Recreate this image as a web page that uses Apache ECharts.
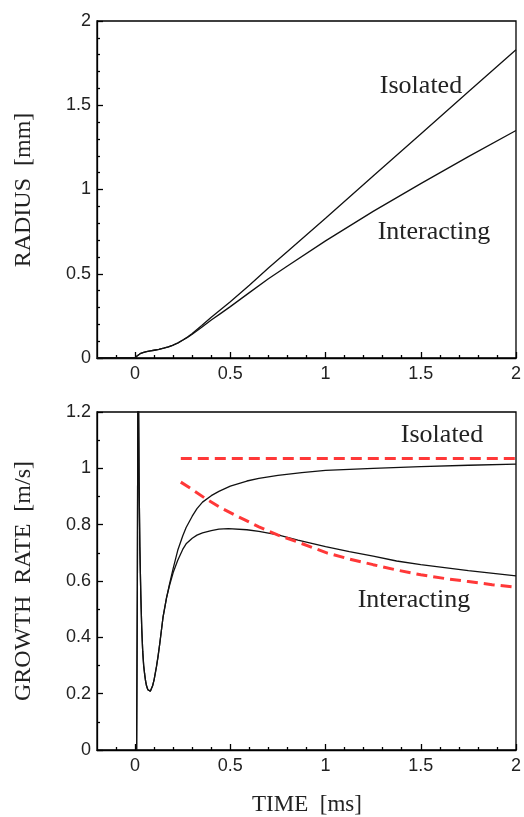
<!DOCTYPE html>
<html>
<head>
<meta charset="utf-8">
<script src="https://cdn.jsdelivr.net/npm/echarts@6/dist/echarts.min.js"></script>
<style>
  html, body { margin: 0; padding: 0; background: #fff; }
  #chart { width: 524px; height: 817px; }
</style>
</head>
<body>
<div id="chart"></div>
<script>
// tick positions on the time axis (ms)
const timeTicks = [0, 0.5, 1, 1.5, 2]
const timeMinorTicks = [-0.1, 0.1, 0.2, 0.3, 0.4, 0.6, 0.7, 0.8, 0.9, 1.1, 1.2, 1.3, 1.4, 1.6, 1.7, 1.8, 1.9]

// top panel: radius [mm] vs time [ms]
const radiusIsolated = [
  [-0.2, 0], [0, 0], [0.01, 0.012], [0.02, 0.022], [0.03, 0.028], [0.045, 0.034],
  [0.06, 0.038], [0.08, 0.042], [0.1, 0.046], [0.125, 0.051], [0.15, 0.058],
  [0.175, 0.066], [0.2, 0.077], [0.225, 0.09], [0.25, 0.107], [0.275, 0.125],
  [0.3, 0.146], [0.35, 0.193], [0.4, 0.242], [0.45, 0.288], [0.5, 0.334],
  [0.6, 0.432], [0.7, 0.534], [0.8, 0.632], [1, 0.83], [1.25, 1.08],
  [1.5, 1.33], [1.75, 1.58], [2, 1.83]
]
const radiusInteracting = [
  [-0.2, 0], [0, 0], [0.01, 0.012], [0.02, 0.022], [0.03, 0.028], [0.045, 0.034],
  [0.06, 0.038], [0.08, 0.042], [0.1, 0.046], [0.125, 0.051], [0.15, 0.058],
  [0.175, 0.066], [0.2, 0.076], [0.225, 0.089], [0.25, 0.105], [0.275, 0.122],
  [0.3, 0.141], [0.35, 0.182], [0.4, 0.225], [0.45, 0.265], [0.5, 0.305],
  [0.6, 0.388], [0.7, 0.47], [0.8, 0.546], [1, 0.695], [1.25, 0.87],
  [1.5, 1.035], [1.75, 1.195], [2, 1.35]
]

// bottom panel: growth rate [m/s] vs time [ms]
const rateIsolated = [
  [0.008, 0], [0.012, 0.6], [0.0145, 1.25], [0.016, 1.5], [0.0185, 1.2], [0.021, 0.95],
  [0.025, 0.72], [0.03, 0.55], [0.035, 0.43], [0.04, 0.35], [0.045, 0.3], [0.05, 0.27],
  [0.055, 0.245], [0.06, 0.228], [0.067, 0.214], [0.074, 0.207], [0.08, 0.209],
  [0.085, 0.215], [0.092, 0.228], [0.1, 0.25], [0.112, 0.295], [0.12, 0.33],
  [0.13, 0.38], [0.147, 0.473], [0.165, 0.54], [0.181, 0.59], [0.2, 0.645],
  [0.224, 0.709], [0.25, 0.76], [0.268, 0.79], [0.3, 0.83], [0.325, 0.857],
  [0.354, 0.88], [0.4, 0.903], [0.44, 0.918], [0.5, 0.937], [0.587, 0.955],
  [0.65, 0.964], [0.75, 0.975], [0.875, 0.985], [1, 0.993], [1.25, 1.0],
  [1.5, 1.006], [1.75, 1.011], [2, 1.015]
]
const rateInteracting = [
  [0.008, 0], [0.012, 0.6], [0.0145, 1.25], [0.016, 1.5], [0.0185, 1.2], [0.021, 0.95],
  [0.025, 0.72], [0.03, 0.55], [0.035, 0.43], [0.04, 0.35], [0.045, 0.3], [0.05, 0.27],
  [0.055, 0.245], [0.06, 0.228], [0.067, 0.214], [0.074, 0.207], [0.08, 0.209],
  [0.085, 0.215], [0.092, 0.228], [0.1, 0.25], [0.112, 0.295], [0.12, 0.33],
  [0.13, 0.38], [0.147, 0.473], [0.165, 0.54], [0.181, 0.585], [0.2, 0.63],
  [0.224, 0.674], [0.25, 0.712], [0.268, 0.732], [0.3, 0.752], [0.325, 0.763],
  [0.354, 0.771], [0.4, 0.779], [0.44, 0.784], [0.49, 0.786], [0.587, 0.782],
  [0.65, 0.776], [0.75, 0.764], [0.855, 0.745], [1, 0.722], [1.125, 0.704],
  [1.25, 0.688], [1.373, 0.671], [1.5, 0.658], [1.75, 0.637], [2, 0.618]
]
// red dashed asymptotes
const rateIsolatedModel = [[0.24, 1.035], [2, 1.035]]
const rateInteractingModel = [
  [0.24, 0.951], [0.3, 0.925], [0.371, 0.892], [0.45, 0.86], [0.527, 0.833],
  [0.579, 0.816], [0.65, 0.792], [0.751, 0.763], [0.855, 0.738], [1.01, 0.699],
  [1.125, 0.678], [1.25, 0.658], [1.373, 0.639], [1.5, 0.622], [1.625, 0.609],
  [1.75, 0.598], [1.875, 0.587], [2, 0.578]
]

const tickFont = { fontFamily: 'Liberation Sans', fontSize: 18, color: '#222' }
const serif = 'Liberation Serif'
const axisLineStyle = { color: '#000', width: 1.3 }

function timeAxes (gridIndex) {
  return [
    {
      gridIndex: gridIndex, type: 'value', position: 'bottom', min: -0.2, max: 2,
      axisLine: { show: true, onZero: false, lineStyle: axisLineStyle },
      axisTick: { show: true, inside: true, length: 6, customValues: timeTicks, lineStyle: axisLineStyle },
      axisLabel: Object.assign({ customValues: timeTicks, margin: 7 }, tickFont),
      splitLine: { show: false }
    },
    {
      gridIndex: gridIndex, type: 'value', position: 'bottom', min: -0.2, max: 2,
      axisLine: { show: false, onZero: false },
      axisTick: { show: true, inside: true, length: 3, customValues: timeMinorTicks, lineStyle: axisLineStyle },
      axisLabel: { show: false },
      splitLine: { show: false }
    }
  ]
}

function valueAxis (gridIndex, max, interval, minorSplit) {
  return {
    gridIndex: gridIndex, type: 'value', min: 0, max: max, interval: interval,
    axisLine: { show: true, onZero: false, lineStyle: axisLineStyle },
    axisTick: { show: true, inside: true, length: 6, lineStyle: axisLineStyle },
    minorTick: { show: true, splitNumber: minorSplit, length: 3, lineStyle: axisLineStyle },
    axisLabel: Object.assign({ margin: 6 }, tickFont),
    splitLine: { show: false },
    minorSplitLine: { show: false }
  }
}

function curve (data, xi, yi, style) {
  return {
    type: 'line', data: data, xAxisIndex: xi, yAxisIndex: yi,
    showSymbol: false, smooth: false, clip: true,
    lineStyle: style, silent: true
  }
}

const black = { color: '#111', width: 1.3 }
const redDash = { color: '#ff3838', width: 3, type: [11, 6] }

function label (text, x, y, size, rot) {
  return {
    type: 'text', x: x, y: y, rotation: rot || 0,
    style: {
      text: text, fontFamily: serif, fontSize: size, fill: '#222',
      textAlign: 'center', textVerticalAlign: 'middle'
    }
  }
}

const chart = echarts.init(document.getElementById('chart'))
chart.setOption({
  animation: false,
  backgroundColor: '#fff',
  grid: [
    { left: 97, right: 6, top: 21, height: 337, show: true, borderColor: '#000', borderWidth: 1.3 },
    { left: 97, right: 6, top: 412, height: 338, show: true, borderColor: '#000', borderWidth: 1.3 }
  ],
  xAxis: timeAxes(0).concat(timeAxes(1)),
  yAxis: [valueAxis(0, 2, 0.5, 5), valueAxis(1, 1.2, 0.2, 2)],
  series: [
    curve(radiusIsolated, 0, 0, black),
    curve(radiusInteracting, 0, 0, black),
    curve(rateIsolated, 2, 1, black),
    curve(rateInteracting, 2, 1, black),
    curve(rateIsolatedModel, 2, 1, redDash),
    curve(rateInteractingModel, 2, 1, redDash)
  ],
  graphic: [
    label('RADIUS  [mm]', 24, 190, 24, Math.PI / 2),
    label('GROWTH  RATE  [m/s]', 24, 581, 24, Math.PI / 2),
    label('TIME  [ms]', 307, 805, 23),
    label('Isolated', 421, 86, 26),
    label('Interacting', 434, 232, 26),
    label('Isolated', 442, 435, 26),
    label('Interacting', 414, 600, 26)
  ]
})
</script>
</body>
</html>
